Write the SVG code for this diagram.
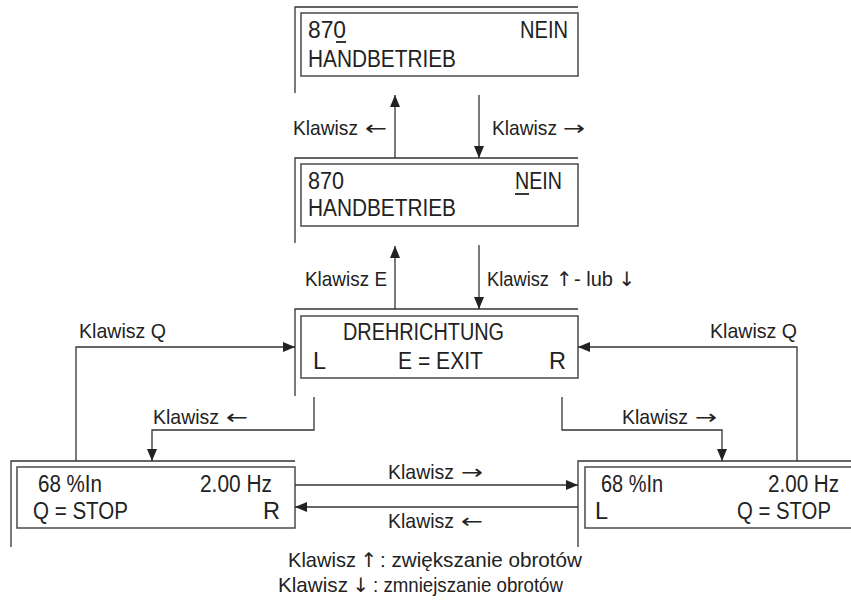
<svg xmlns="http://www.w3.org/2000/svg" width="851" height="606" viewBox="0 0 851 606">
  <style>
    .frame { fill: none; stroke: #333; stroke-width: 1.3; }
    .screen { fill: #fff; stroke: #555; stroke-width: 1.6; }
    .lcd { font-family: "Liberation Sans", Arial, sans-serif; font-size: 23.5px; fill: #222; }
    .lbl { font-family: "Liberation Sans", Arial, sans-serif; font-size: 21px; fill: #222; }
    .ar { font-family: "DejaVu Sans", sans-serif; font-size: 20px; fill: #222; }
    .conn { fill: none; stroke: #333; stroke-width: 1.3; marker-end: url(#head); }
    .ul { stroke: #222; stroke-width: 1.8; }
  </style>
  <defs>
    <marker id="head" markerUnits="userSpaceOnUse" markerWidth="12" markerHeight="12" refX="12" refY="5" orient="auto">
      <path d="M0,0 L12,5 L0,10 z" fill="#222"/>
    </marker>
  </defs>
  <rect width="851" height="606" fill="#fff"/>

  <!-- parameter 870, digit selected -->
  <g id="p870-digit">
    <path class="frame" d="M295,93 V7 H578"/>
    <rect class="screen" x="301" y="13" width="277" height="63"/>
    <text class="lcd" x="308" y="38" textLength="38" lengthAdjust="spacingAndGlyphs">870</text>
    <line class="ul" x1="336" y1="42" x2="346" y2="42"/>
    <text class="lcd" x="520" y="38" textLength="48" lengthAdjust="spacingAndGlyphs">NEIN</text>
    <text class="lcd" x="308" y="67" textLength="148" lengthAdjust="spacingAndGlyphs">HANDBETRIEB</text>
  </g>

  <!-- parameter 870, value selected -->
  <g id="p870-value">
    <path class="frame" d="M295,243 V158 H578"/>
    <rect class="screen" x="301" y="164" width="277" height="62"/>
    <text class="lcd" x="308" y="189" textLength="36" lengthAdjust="spacingAndGlyphs">870</text>
    <text class="lcd" x="515" y="189" textLength="47" lengthAdjust="spacingAndGlyphs">NEIN</text>
    <line class="ul" x1="515" y1="194" x2="529" y2="194"/>
    <text class="lcd" x="308" y="216" textLength="148" lengthAdjust="spacingAndGlyphs">HANDBETRIEB</text>
  </g>

  <!-- direction menu -->
  <g id="drehrichtung">
    <path class="frame" d="M295,396 V309 H578"/>
    <rect class="screen" x="301" y="316" width="277" height="62"/>
    <text class="lcd" x="343" y="340" textLength="161" lengthAdjust="spacingAndGlyphs">DREHRICHTUNG</text>
    <text class="lcd" x="313" y="369">L</text>
    <text class="lcd" x="398" y="369" textLength="85" lengthAdjust="spacingAndGlyphs">E = EXIT</text>
    <text class="lcd" x="566" y="369" text-anchor="end">R</text>
  </g>

  <!-- running left -->
  <g id="run-left">
    <path class="frame" d="M11,547 V461 H295"/>
    <rect class="screen" x="17" y="467" width="278" height="61"/>
    <text class="lcd" x="38" y="492" textLength="64" lengthAdjust="spacingAndGlyphs">68 %In</text>
    <text class="lcd" x="200" y="492" textLength="72" lengthAdjust="spacingAndGlyphs">2.00 Hz</text>
    <text class="lcd" x="33" y="519" textLength="95" lengthAdjust="spacingAndGlyphs">Q = STOP</text>
    <text class="lcd" x="280" y="519" text-anchor="end">R</text>
  </g>

  <!-- running right -->
  <g id="run-right">
    <path class="frame" d="M578,547 V461 H851"/>
    <rect class="screen" x="585" y="467" width="270" height="61"/>
    <text class="lcd" x="601" y="492" textLength="62" lengthAdjust="spacingAndGlyphs">68 %In</text>
    <text class="lcd" x="768" y="492" textLength="71" lengthAdjust="spacingAndGlyphs">2.00 Hz</text>
    <text class="lcd" x="595" y="519">L</text>
    <text class="lcd" x="737" y="519" textLength="94" lengthAdjust="spacingAndGlyphs">Q = STOP</text>
  </g>

  <!-- transitions -->
  <g id="connectors">
    <path class="conn" d="M395,158 V95"/>
    <path class="conn" d="M479,95 V158"/>
    <path class="conn" d="M395,309 V246"/>
    <path class="conn" d="M479,245 V309"/>
    <path class="conn" d="M76,461 V347 H295"/>
    <path class="conn" d="M797,461 V347 H578"/>
    <path class="conn" d="M314,397 V430 H152 V461"/>
    <path class="conn" d="M562,397 V430 H722 V461"/>
    <path class="conn" d="M295,485 H578"/>
    <path class="conn" d="M578,507 H295"/>
  </g>

  <!-- transition labels (key word and key symbol set separately) -->
  <g id="labels">
    <text class="lbl" x="293" y="135" textLength="65" lengthAdjust="spacingAndGlyphs">Klawisz</text>
    <text class="ar" x="365" y="135" textLength="22" lengthAdjust="spacingAndGlyphs">←</text>

    <text class="lbl" x="492" y="135" textLength="65" lengthAdjust="spacingAndGlyphs">Klawisz</text>
    <text class="ar" x="563" y="135" textLength="22" lengthAdjust="spacingAndGlyphs">→</text>

    <text class="lbl" x="305" y="286" textLength="82" lengthAdjust="spacingAndGlyphs">Klawisz E</text>

    <text class="lbl" x="487" y="286" style="font-size:20px" textLength="62" lengthAdjust="spacingAndGlyphs">Klawisz</text>
    <text class="ar" x="564.5" y="286" text-anchor="middle">↑</text>
    <text class="lbl" x="574" y="286" textLength="39" lengthAdjust="spacingAndGlyphs">- lub</text>
    <text class="ar" x="627" y="286" text-anchor="middle">↓</text>

    <text class="lbl" x="79" y="338" textLength="87" lengthAdjust="spacingAndGlyphs">Klawisz Q</text>
    <text class="lbl" x="710" y="338" textLength="87" lengthAdjust="spacingAndGlyphs">Klawisz Q</text>

    <text class="lbl" x="153" y="424" textLength="66" lengthAdjust="spacingAndGlyphs">Klawisz</text>
    <text class="ar" x="226" y="424" textLength="22" lengthAdjust="spacingAndGlyphs">←</text>

    <text class="lbl" x="622" y="424" textLength="66" lengthAdjust="spacingAndGlyphs">Klawisz</text>
    <text class="ar" x="695" y="424" textLength="22" lengthAdjust="spacingAndGlyphs">→</text>

    <text class="lbl" x="388" y="479" textLength="66" lengthAdjust="spacingAndGlyphs">Klawisz</text>
    <text class="ar" x="461" y="479" textLength="22" lengthAdjust="spacingAndGlyphs">→</text>

    <text class="lbl" x="388" y="528" textLength="66" lengthAdjust="spacingAndGlyphs">Klawisz</text>
    <text class="ar" x="461" y="528" textLength="22" lengthAdjust="spacingAndGlyphs">←</text>

    <text class="lbl" x="288" y="567" textLength="68" lengthAdjust="spacingAndGlyphs">Klawisz</text>
    <text class="ar" x="369" y="567" text-anchor="middle">↑</text>
    <text class="lbl" x="380" y="567" textLength="202" lengthAdjust="spacingAndGlyphs">: zwiększanie obrotów</text>

    <text class="lbl" x="278" y="592" textLength="70" lengthAdjust="spacingAndGlyphs">Klawisz</text>
    <text class="ar" x="361" y="592" text-anchor="middle">↓</text>
    <text class="lbl" x="373" y="592" textLength="190" lengthAdjust="spacingAndGlyphs">: zmniejszanie obrotów</text>
  </g>
</svg>
